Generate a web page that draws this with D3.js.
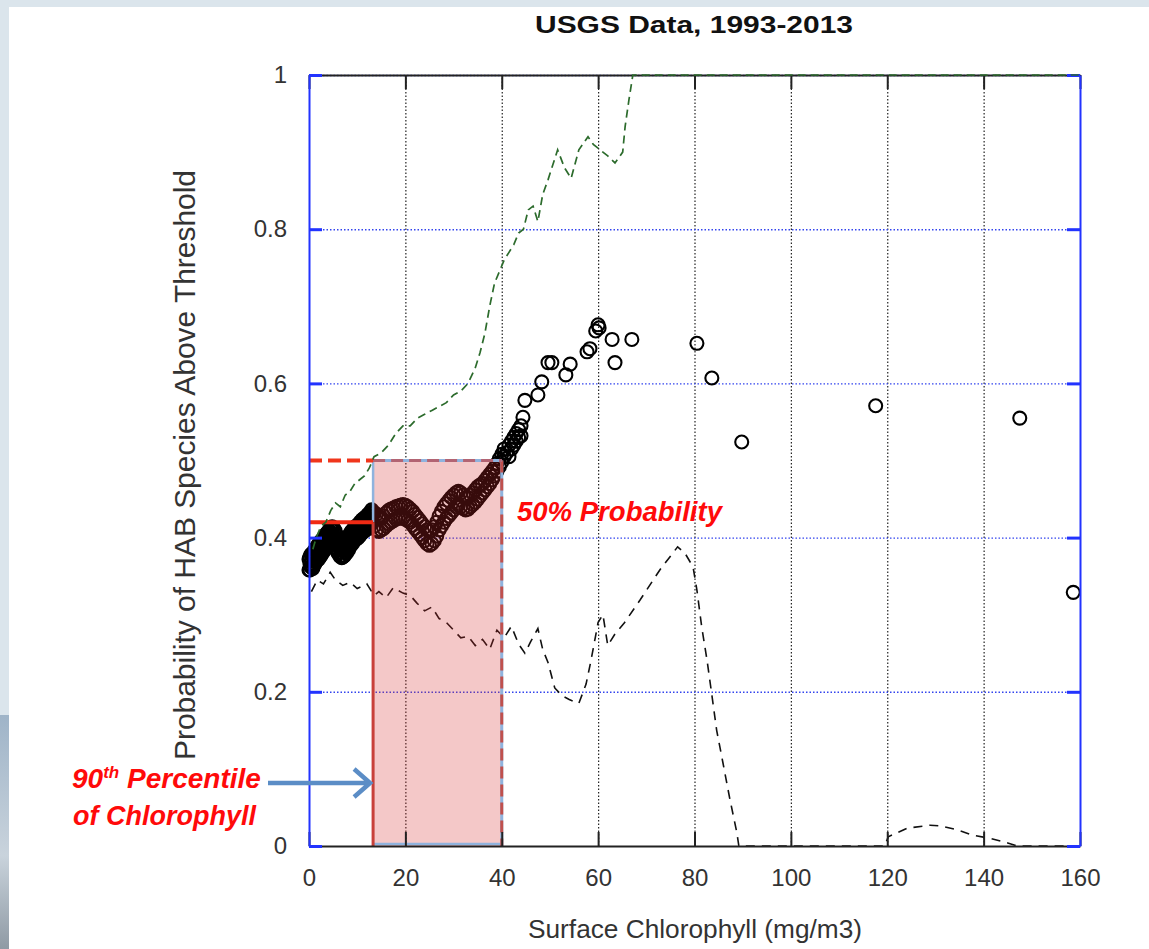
<!DOCTYPE html>
<html>
<head>
<meta charset="utf-8">
<script src="https://cdn.jsdelivr.net/npm/d3@7"></script>
<style>
  body { margin: 0; background: #dbe5ec; }
  #graph { width: 1149px; height: 949px; }
  text { font-family: "Liberation Sans", Arial, sans-serif; }
</style>
</head>
<body>
<div id="graph"></div>
<script>
// tick values
const xTicks = [0, 20, 40, 60, 80, 100, 120, 140, 160];
const yTicks = [0, 0.2, 0.4, 0.6, 0.8, 1];
const yTickLabels = ["0", "0.2", "0.4", "0.6", "0.8", "1"];

// observed probability (open circles), [chlorophyll, probability]
const observed = [
  [0.0,0.358],[0.0,0.372],[0.4,0.362],[0.4,0.378],[0.8,0.360],[0.8,0.380],
  [1.2,0.366],[1.2,0.384],[1.6,0.370],[1.6,0.388],[2.0,0.372],[2.0,0.392],
  [2.4,0.376],[2.4,0.395],[2.8,0.380],[2.8,0.398],[3.2,0.384],[3.2,0.402],
  [3.6,0.386],[3.6,0.405],[4.0,0.390],[4.0,0.408],[4.4,0.392],[4.4,0.412],
  [4.8,0.395],[4.8,0.414],[5.2,0.392],[5.2,0.410],[5.6,0.386],[5.6,0.404],
  [6.0,0.380],[6.0,0.398],[6.4,0.376],[6.4,0.394],[6.8,0.374],[6.8,0.392],
  [7.2,0.376],[7.2,0.393],[7.6,0.380],[7.6,0.396],[8.0,0.384],[8.0,0.400],
  [8.4,0.388],[8.4,0.404],[8.8,0.392],[8.8,0.408],[9.2,0.396],[9.2,0.410],
  [9.6,0.398],[9.6,0.413],[10.0,0.400],[10.0,0.415],[10.4,0.402],[10.4,0.416],
  [10.8,0.405],[10.8,0.418],[11.2,0.408],[11.2,0.421],[11.6,0.410],[11.6,0.424],
  [12.0,0.412],[12.0,0.426],[12.4,0.415],[12.4,0.428],[12.8,0.418],[12.8,0.432],
  [13.2,0.420],[13.2,0.434],
  [0.2,0.366],[0.6,0.370],[1.0,0.372],[1.4,0.376],[1.8,0.380],[2.2,0.383],
  [2.6,0.386],[3.0,0.390],[3.4,0.394],[3.8,0.397],[4.2,0.400],[4.6,0.404],
  [5.0,0.404],[5.4,0.400],[5.8,0.394],[6.2,0.388],[6.6,0.384],[7.0,0.383],
  [7.4,0.385],[7.8,0.388],[8.2,0.392],[8.6,0.397],[9.0,0.400],[9.4,0.404],
  [9.8,0.406],[10.2,0.408],[10.6,0.411],[11.0,0.414],[11.4,0.416],[11.8,0.418],
  [12.2,0.421],[12.6,0.423],[13.0,0.427],
  [0.2,0.358],[0.6,0.362],[1.0,0.364],[1.4,0.368],[1.8,0.372],[2.2,0.375],
  [2.6,0.378],[3.0,0.382],[3.4,0.386],[3.8,0.389],[4.2,0.392],[4.6,0.396],
  [5.0,0.396],[5.4,0.392],[5.8,0.386],[6.2,0.380],[6.6,0.376],[7.0,0.375],
  [7.4,0.377],[7.8,0.380],[8.2,0.384],[8.6,0.389],[9.0,0.392],[9.4,0.396],
  [9.8,0.398],[10.2,0.400],[10.6,0.403],[11.0,0.406],[11.4,0.408],[11.8,0.410],
  [12.2,0.413],[12.6,0.415],[13.0,0.419],
  [0.2,0.375],[0.6,0.379],[1.0,0.381],[1.4,0.385],[1.8,0.389],[2.2,0.392],
  [2.6,0.395],[3.0,0.399],[3.4,0.403],[3.8,0.406],[4.2,0.409],[4.6,0.413],
  [5.0,0.413],[5.4,0.409],[5.8,0.403],[6.2,0.397],[6.6,0.393],[7.0,0.392],
  [7.4,0.394],[7.8,0.397],[8.2,0.401],[8.6,0.406],[9.0,0.409],[9.4,0.413],
  [9.8,0.415],[10.2,0.417],[10.6,0.420],[11.0,0.423],[11.4,0.425],[11.8,0.427],
  [12.2,0.430],[12.6,0.432],[13.0,0.436],
  [13.6,0.415],[13.6,0.432],[14.0,0.410],[14.0,0.430],
  [14.5,0.408],[14.5,0.428],[15.0,0.410],[15.0,0.425],[15.5,0.412],[15.5,0.428],
  [16.0,0.415],[16.0,0.432],[16.5,0.418],[16.5,0.435],[17.0,0.420],[17.0,0.437],
  [17.5,0.422],[17.5,0.438],[18.0,0.424],[18.0,0.440],[18.5,0.425],[18.5,0.441],
  [19.0,0.426],[19.0,0.442],[19.5,0.425],[19.5,0.443],[20.0,0.424],[20.0,0.442],
  [20.5,0.422],[20.5,0.440],[21.0,0.420],[21.0,0.437],[21.5,0.416],[21.5,0.434],
  [22.0,0.412],[22.0,0.430],[22.5,0.408],[22.5,0.426],[23.0,0.404],[23.0,0.422],
  [23.5,0.400],[23.5,0.418],[24.0,0.396],[24.0,0.414],[24.5,0.392],[24.5,0.410],
  [25.0,0.390],[25.0,0.408],[25.5,0.392],[25.5,0.410],[26.0,0.396],[26.0,0.414],
  [26.5,0.402],[26.5,0.420],[27.0,0.410],[27.0,0.428],[27.5,0.415],[27.5,0.434],
  [28.0,0.420],[28.0,0.440],[28.5,0.425],[28.5,0.444],[29.0,0.428],[29.0,0.448],
  [29.5,0.432],[29.5,0.452],[30.0,0.436],[30.0,0.455],[30.5,0.440],[30.5,0.458],
  [31.0,0.442],[31.0,0.460],[31.5,0.440],[31.5,0.458],[32.0,0.438],[32.0,0.455],
  [32.5,0.436],[32.5,0.452],[33.0,0.437],[33.0,0.452],[33.5,0.440],[33.5,0.455],
  [34.0,0.443],[34.0,0.458],[34.5,0.446],[34.5,0.462],[35.0,0.450],[35.0,0.466],
  [35.5,0.454],[35.5,0.468],[36.0,0.458],[36.0,0.470],[36.5,0.462],[36.5,0.474],
  [37.0,0.466],[37.0,0.478],[37.5,0.470],[37.5,0.482],[38.0,0.475],[38.0,0.486],
  [38.5,0.480],[38.5,0.490],[39.0,0.486],[39.0,0.496],[39.5,0.492],[39.5,0.502],
  [40.0,0.498],[40.0,0.508],[40.5,0.505],[40.5,0.515],[41.0,0.510],[41.5,0.505],
  [41.5,0.520],[42.0,0.515],[42.0,0.525],[42.5,0.520],[42.5,0.530],[43.0,0.525],
  [43.0,0.535],[43.5,0.530],[43.5,0.540],[44.0,0.532],[44.0,0.545],[44.4,0.556],
  [44.8,0.578],[47.5,0.585],[48.3,0.602],[49.6,0.627],[50.4,0.627],[53.3,0.611],
  [54.2,0.625],[57.7,0.641],[58.3,0.645],[59.5,0.668],[60.0,0.676],[60.2,0.672],
  [62.9,0.657],[63.5,0.627],[67.0,0.657],[80.5,0.652],[83.6,0.607],[89.8,0.524],
  [117.6,0.571],[147.5,0.555],[158.6,0.329]
];

// upper bound (green dashed)
const upper = [
  [0.8,0.385],[1.5,0.40],[2.5,0.415],[3.5,0.42],[4.5,0.435],[5.5,0.445],[6.5,0.44],
  [7.5,0.455],[8.5,0.46],[9.5,0.47],[10.5,0.475],[11.5,0.48],[12.5,0.49],[13.5,0.505],
  [15,0.51],[16.5,0.52],[18,0.535],[19.5,0.545],[21,0.545],[22.5,0.555],[24,0.56],
  [25.5,0.565],[27,0.57],[28.5,0.575],[30,0.585],[31.5,0.59],[33,0.60],[34.5,0.62],
  [35.5,0.64],[36.5,0.665],[37.5,0.70],[38.5,0.73],[39.5,0.745],[40.5,0.76],[41.5,0.77],
  [42.5,0.78],[43.5,0.795],[44.5,0.80],[45.5,0.825],[46.5,0.83],[47.5,0.81],[48.5,0.845],
  [49.6,0.864],[51.6,0.903],[53,0.88],[54.4,0.866],[56,0.903],[57.9,0.92],[59,0.91],
  [60.4,0.903],[62,0.895],[63.5,0.886],[65.1,0.90],[65.6,0.933],[66.4,0.968],[67.2,1.0],
  [100,1.0],[160,1.0]
];

// lower bound (black dashed)
const lower = [
  [0.5,0.33],[1.7,0.345],[3,0.34],[4.4,0.355],[5.5,0.345],[7,0.338],[8.5,0.342],
  [10,0.334],[12,0.34],[13.5,0.325],[14.5,0.33],[16,0.322],[17.5,0.335],[19.5,0.328],
  [21,0.325],[22.4,0.315],[24,0.305],[25.5,0.31],[27,0.295],[28.5,0.29],[30,0.28],
  [31.5,0.27],[33,0.272],[34.5,0.26],[36,0.268],[37.5,0.255],[39,0.28],[40.5,0.27],
  [42,0.285],[43.5,0.262],[44.8,0.25],[46,0.265],[47.5,0.282],[48.5,0.255],[49.6,0.238],
  [51,0.205],[52.5,0.195],[54,0.19],[56,0.185],[57.5,0.21],[58.5,0.24],[60,0.29],
  [61,0.30],[62,0.26],[63.5,0.275],[65.5,0.29],[68.7,0.319],[72.8,0.358],[76.5,0.388],
  [78,0.38],[79.7,0.362],[80.5,0.332],[81.5,0.284],[82.6,0.241],[83.6,0.196],[84.6,0.150],
  [85.9,0.108],[87.3,0.062],[88.8,0.017],[89.2,0],[119.5,0],[120.2,0.012],[124.1,0.023],
  [128.9,0.027],[131,0.026],[134.5,0.021],[137.8,0.014],[141.3,0.01],[145,0.004],[147,0],[160,0]
];

// highlighted range
const p90Chl = 13.3;
const crossChl = 40;
const probLevel = 0.5;
const probAtP90 = 0.42;

const margin = { top: 75, right: 69, bottom: 103, left: 309 },
  width = 1149 - margin.left - margin.right,
  height = 949 - margin.top - margin.bottom;

const svg = d3.select("#graph").append("svg")
  .attr("width", 1149)
  .attr("height", 949);

// slide background
const defs = svg.append("defs");
const grad = defs.append("linearGradient").attr("id", "photo").attr("x1", 0).attr("y1", 0).attr("x2", 0).attr("y2", 1);
grad.append("stop").attr("offset", "0%").attr("stop-color", "#9fb4c8");
grad.append("stop").attr("offset", "60%").attr("stop-color", "#c9d3dc");
grad.append("stop").attr("offset", "100%").attr("stop-color", "#8f9aa4");
svg.append("rect").attr("x", 0).attr("y", 0).attr("width", 1149).attr("height", 949).attr("fill", "#dbe5ec");
svg.append("rect").attr("x", 0).attr("y", 715).attr("width", 9).attr("height", 234).attr("fill", "url(#photo)");
svg.append("rect").attr("x", 9).attr("y", 7).attr("width", 1140).attr("height", 942).attr("fill", "#fff");

const g = svg.append("g").attr("transform", "translate(" + margin.left + "," + margin.top + ")");

const x = d3.scaleLinear().domain([0, 160]).range([0, width]);
const y = d3.scaleLinear().domain([0, 1]).range([height, 0]);

// grid
g.append("g")
  .attr("transform", "translate(0," + height + ")")
  .call(d3.axisBottom(x).tickValues(xTicks.slice(1, -1)).tickSize(-height).tickFormat(""))
  .call(s => s.select(".domain").remove())
  .selectAll("line").attr("stroke", "#222").attr("stroke-width", 1.2).attr("stroke-dasharray", "1.5,2");

g.append("g")
  .call(d3.axisLeft(y).tickValues(yTicks.slice(1)).tickSize(-width).tickFormat(""))
  .call(s => s.select(".domain").remove())
  .selectAll("line").attr("stroke", "#3344ee").attr("stroke-width", 1.4).attr("stroke-dasharray", "1.5,2");

const line = d3.line().x(d => x(d[0])).y(d => y(d[1]));

// lower bound
g.append("path").datum(lower)
  .attr("d", line).attr("fill", "none")
  .attr("stroke", "#111").attr("stroke-width", 1.6).attr("stroke-dasharray", "9,7");

// observed circles
g.append("g").selectAll("circle")
  .data(observed).enter().append("circle")
  .attr("cx", d => x(d[0]))
  .attr("cy", d => y(d[1]))
  .attr("r", 6.5)
  .attr("fill", "none")
  .attr("stroke", "#000")
  .attr("stroke-width", 2.1);

// shaded range
g.append("rect")
  .attr("x", x(p90Chl)).attr("y", y(probLevel))
  .attr("width", x(crossChl) - x(p90Chl)).attr("height", y(0) - y(probLevel))
  .attr("fill", "#d42a2a").attr("opacity", 0.26);

// edges of shaded range
g.append("line")
  .attr("x1", x(p90Chl)).attr("x2", x(crossChl)).attr("y1", y(0) - 2).attr("y2", y(0) - 2)
  .attr("stroke", "#8fb3de").attr("stroke-width", 2.5);
g.append("line")
  .attr("x1", x(p90Chl)).attr("x2", x(p90Chl)).attr("y1", y(probLevel)).attr("y2", y(probAtP90))
  .attr("stroke", "#8fb3de").attr("stroke-width", 2.5);
g.append("line")
  .attr("x1", x(crossChl)).attr("x2", x(crossChl)).attr("y1", y(probLevel)).attr("y2", y(0))
  .attr("stroke", "#8fb3de").attr("stroke-width", 3);
g.append("line")
  .attr("x1", x(crossChl)).attr("x2", x(crossChl)).attr("y1", y(probLevel)).attr("y2", y(0))
  .attr("stroke", "#c0504d").attr("stroke-width", 3).attr("stroke-dasharray", "12,6");
g.append("line")
  .attr("x1", x(p90Chl)).attr("x2", x(crossChl)).attr("y1", y(probLevel)).attr("y2", y(probLevel))
  .attr("stroke", "#8fb3de").attr("stroke-width", 3);
g.append("line")
  .attr("x1", x(p90Chl)).attr("x2", x(crossChl)).attr("y1", y(probLevel)).attr("y2", y(probLevel))
  .attr("stroke", "#b26473").attr("stroke-width", 3).attr("stroke-dasharray", "12,6");
g.append("line")
  .attr("x1", x(p90Chl)).attr("x2", x(p90Chl)).attr("y1", y(probAtP90)).attr("y2", y(0))
  .attr("stroke", "#c8403a").attr("stroke-width", 3);

// red guide lines
g.append("line")
  .attr("x1", x(0)).attr("x2", x(p90Chl)).attr("y1", y(probLevel)).attr("y2", y(probLevel))
  .attr("stroke", "#f0361c").attr("stroke-width", 4).attr("stroke-dasharray", "13,6");
g.append("line")
  .attr("x1", x(0)).attr("x2", x(p90Chl)).attr("y1", y(probAtP90)).attr("y2", y(probAtP90))
  .attr("stroke", "#f02a14").attr("stroke-width", 4);

// axes
const xAxis = g.append("g")
  .attr("transform", "translate(0," + height + ")")
  .call(d3.axisBottom(x).tickValues(xTicks).tickSize(-14).tickSizeOuter(0).tickPadding(23));
xAxis.select(".domain").attr("stroke", "#222").attr("stroke-width", 2);
xAxis.selectAll(".tick line").attr("stroke", "#222").attr("stroke-width", 2);
xAxis.selectAll("text").attr("font-size", 24).attr("fill", "#333").style("font-family", "Liberation Sans, Arial, sans-serif");

const xTop = g.append("g")
  .call(d3.axisTop(x).tickValues(xTicks).tickSize(-14).tickSizeOuter(0).tickFormat(""));
xTop.select(".domain").attr("stroke", "#222").attr("stroke-width", 2);
xTop.selectAll(".tick line").attr("stroke", "#222").attr("stroke-width", 2);

const yAxis = g.append("g")
  .call(d3.axisLeft(y).tickValues(yTicks).tickSize(-13).tickSizeOuter(0).tickPadding(22)
    .tickFormat((d, i) => yTickLabels[i]));
yAxis.select(".domain").attr("stroke", "#2233ff").attr("stroke-width", 2);
yAxis.selectAll(".tick line").attr("stroke", "#2233ff").attr("stroke-width", 3);
yAxis.selectAll("text").attr("font-size", 24).attr("fill", "#333").style("font-family", "Liberation Sans, Arial, sans-serif");

const yRight = g.append("g")
  .attr("transform", "translate(" + width + ",0)")
  .call(d3.axisRight(y).tickValues(yTicks).tickSize(-13).tickSizeOuter(0).tickFormat(""));
yRight.select(".domain").attr("stroke", "#2233ff").attr("stroke-width", 2);
yRight.selectAll(".tick line").attr("stroke", "#2233ff").attr("stroke-width", 3);

// upper bound, drawn over the frame like the original
g.append("path").datum(upper)
  .attr("d", line).attr("fill", "none")
  .attr("stroke", "#2c6b2c").attr("stroke-width", 1.7).attr("stroke-dasharray", "8,5");

// titles
svg.append("text")
  .attr("x", 694).attr("y", 33)
  .attr("text-anchor", "middle")
  .attr("font-size", 24).attr("font-weight", "bold").attr("fill", "#111")
  .attr("textLength", 318).attr("lengthAdjust", "spacingAndGlyphs")
  .text("USGS Data, 1993-2013");

svg.append("text")
  .attr("x", 695).attr("y", 938)
  .attr("text-anchor", "middle")
  .attr("font-size", 26).attr("fill", "#333")
  .attr("textLength", 334).attr("lengthAdjust", "spacingAndGlyphs")
  .text("Surface Chlorophyll (mg/m3)");

svg.append("text")
  .attr("transform", "translate(195,465) rotate(-90)")
  .attr("text-anchor", "middle")
  .attr("font-size", 29).attr("fill", "#333")
  .attr("textLength", 590).attr("lengthAdjust", "spacingAndGlyphs")
  .text("Probability of HAB Species Above Threshold");

// annotations
const note = svg.append("g")
  .attr("fill", "#ff0a0a")
  .style("font-family", "Lato, 'Open Sans', sans-serif")
  .style("font-style", "italic")
  .style("font-weight", "bold");

note.append("text")
  .attr("x", 517).attr("y", 521)
  .attr("font-size", 27)
  .attr("textLength", 205).attr("lengthAdjust", "spacingAndGlyphs")
  .text("50% Probability");

const t1 = note.append("text").attr("x", 72).attr("y", 788).attr("font-size", 28);
t1.append("tspan").text("90");
t1.append("tspan").attr("font-size", 17).attr("dy", -10).text("th");
t1.append("tspan").attr("dy", 10).text(" Percentile");

note.append("text")
  .attr("x", 73).attr("y", 825)
  .attr("font-size", 28)
  .attr("textLength", 183).attr("lengthAdjust", "spacingAndGlyphs")
  .text("of Chlorophyll");

// arrow to the 90th percentile
const ax = margin.left + x(p90Chl) - 3;
svg.append("path")
  .attr("d", "M268,783 L" + ax + ",783 M" + (ax - 16) + ",769 L" + ax + ",783 L" + (ax - 16) + ",797")
  .attr("fill", "none")
  .attr("stroke", "#5b8dc6")
  .attr("stroke-width", 4.5)
  .attr("stroke-linejoin", "miter");
</script>
</body>
</html>
